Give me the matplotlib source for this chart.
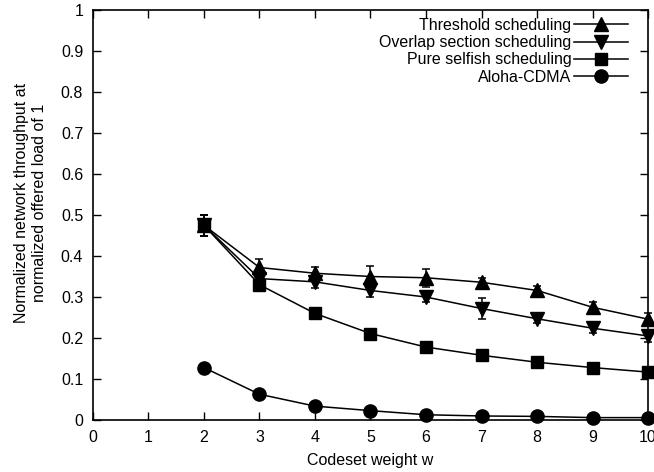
import matplotlib
matplotlib.use("Agg")
import matplotlib.pyplot as plt
from matplotlib.lines import Line2D

plt.rcParams["font.family"] = ["Liberation Sans", "DejaVu Sans"]

w = [2, 3, 4, 5, 6, 7, 8, 9, 10]
thresh = [0.475, 0.372, 0.358, 0.350, 0.347, 0.336, 0.316, 0.275, 0.246]
thresh_err = [0.025, 0.020, 0.015, 0.025, 0.022, 0.010, 0.010, 0.012, 0.015]
overlap = [0.475, 0.345, 0.337, 0.316, 0.300, 0.272, 0.247, 0.224, 0.205]
overlap_err = [0.025, 0.010, 0.015, 0.015, 0.012, 0.025, 0.010, 0.012, 0.015]
selfish = [0.475, 0.330, 0.260, 0.211, 0.178, 0.158, 0.141, 0.128, 0.117]
selfish_err = [0.025, 0.005, 0.005, 0.004, 0.004, 0.003, 0.003, 0.003, 0.003]
aloha = [0.128, 0.063, 0.034, 0.023, 0.013, 0.010, 0.009, 0.006, 0.006]
aloha_err = [0.005, 0.003, 0.002, 0.002, 0.001, 0.001, 0.001, 0.001, 0.001]

series = [
    ("Threshold scheduling", thresh, thresh_err, "^", 10),
    ("Overlap section scheduling", overlap, overlap_err, "v", 10),
    ("Pure selfish scheduling", selfish, selfish_err, "s", 9),
    ("Aloha-CDMA", aloha, aloha_err, "o", 9.5),
]

fig = plt.figure(figsize=(6.54, 4.72), dpi=100)
ax = fig.add_axes([0.142, 0.110, 0.849, 0.869])

handles = []
for label, y, e, m, ms in series:
    ax.errorbar(w, y, yerr=e, color="black", lw=1.1, marker=m, ms=ms,
                capsize=3, elinewidth=1.1, capthick=1.1, clip_on=False)
    handles.append(Line2D([], [], color="black", lw=1.1, marker=m, ms=ms, label=label))

ax.set_xlim(0, 10)
ax.set_ylim(0, 1)
ax.set_xticks(range(0, 11))
ax.set_yticks([i / 10 for i in range(11)])
ax.set_yticklabels(["0", "0.1", "0.2", "0.3", "0.4", "0.5", "0.6", "0.7", "0.8", "0.9", "1"])
ax.tick_params(direction="in", top=True, right=True, labelsize=11.5, length=6, width=1, pad=7)
for s in ax.spines.values():
    s.set_linewidth(1.2)
ax.set_xlabel("Codeset weight w", fontsize=11.5, labelpad=6)
ax.set_ylabel("Normalized network throughput at\nnormalized offered load of 1", fontsize=11.5,
              labelpad=10, y=0.53)

ax.legend(handles=handles, loc="upper right", bbox_to_anchor=(0.9755, 0.996),
          frameon=False, markerfirst=False, fontsize=11.5,
          handlelength=3.4, labelspacing=0.14, borderaxespad=0, handletextpad=0.15)

fig.savefig("out.png", dpi=100)
